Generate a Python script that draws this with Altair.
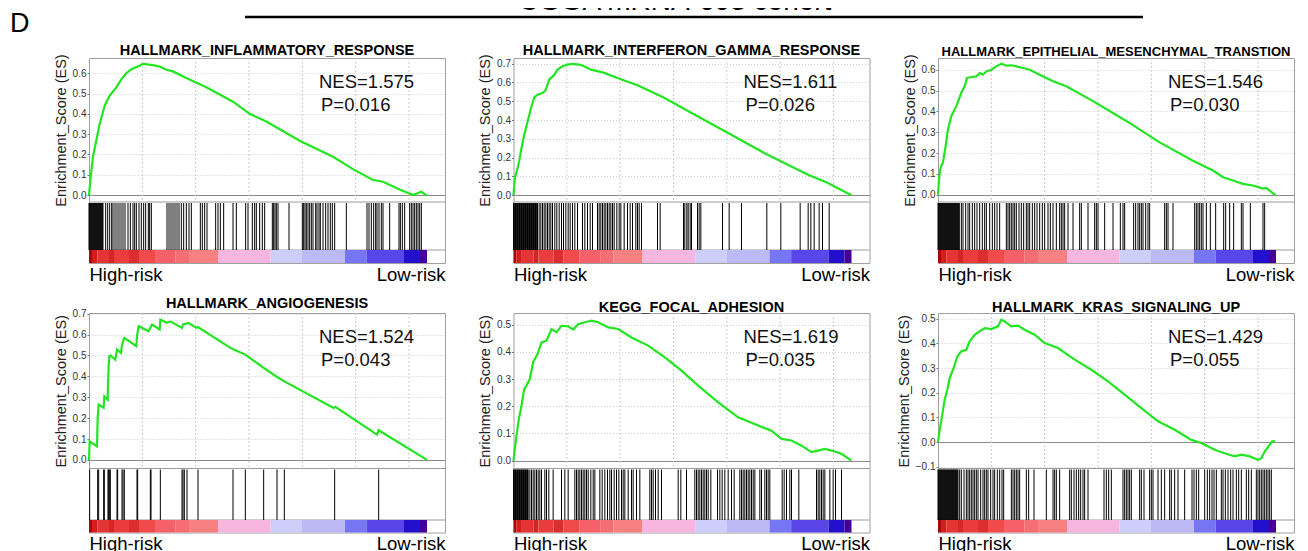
import altair as alt
import pandas as pd

# ---------------- data ----------------
COHORT_TITLE = "CGGA mRNA-693 cohort"
PANEL_LETTER = "D"
LEFT_LABEL = "High-risk"
RIGHT_LABEL = "Low-risk"

TITLES = ["HALLMARK_INFLAMMATORY_RESPONSE", "HALLMARK_INTERFERON_GAMMA_RESPONSE",
          "HALLMARK_EPITHELIAL_MESENCHYMAL_TRANSTION", "HALLMARK_ANGIOGENESIS",
          "KEGG_FOCAL_ADHESION", "HALLMARK_KRAS_SIGNALING_UP"]
NES = ["NES=1.575", "NES=1.611", "NES=1.546", "NES=1.524", "NES=1.619", "NES=1.429"]
PVAL = ["P=0.016", "P=0.026", "P=0.030", "P=0.043", "P=0.035", "P=0.055"]

N_RANKED = 1014          # length of ranked list (position units)
GRID_RANKS = [160, 320, 480, 640, 800, 960]

Y_TICKS_1 = [0.0, 0.1, 0.2, 0.3, 0.4, 0.5, 0.6]
Y_TICKS_2 = [0.0, 0.1, 0.2, 0.3, 0.4, 0.5, 0.6, 0.7]
Y_TICKS_3 = [0.0, 0.1, 0.2, 0.3, 0.4, 0.5, 0.6]
Y_TICKS_4 = [0.0, 0.1, 0.2, 0.3, 0.4, 0.5, 0.6, 0.7]
Y_TICKS_5 = [0.0, 0.1, 0.2, 0.3, 0.4, 0.5]
Y_TICKS_6 = [-0.1, 0.0, 0.1, 0.2, 0.3, 0.4, 0.5]

P1_RANK = [0, 4, 12, 22, 32, 47, 62, 82, 97, 112, 127, 142, 162, 192, 212, 232, 252, 292, 352, 432, 482,
           532, 632, 732, 792, 852, 882, 932, 972, 997, 1014]
P1_ES = [0.0, 0.074, 0.19, 0.27, 0.35, 0.44, 0.49, 0.53, 0.57, 0.60, 0.62, 0.63, 0.646, 0.64, 0.633, 0.617,
         0.609, 0.576, 0.531, 0.46, 0.40, 0.362, 0.268, 0.189, 0.128, 0.074, 0.066, 0.028, 0.0, 0.016, -0.003]

P2_RANK = [0, 4, 10, 17, 24, 32, 42, 52, 62, 72, 87, 97, 107, 122, 132, 147, 162, 177, 197, 212, 232, 252,
           272, 312, 372, 452, 552, 652, 752, 832, 882, 942, 972, 1014]
P2_ES = [0.0, 0.092, 0.128, 0.18, 0.25, 0.32, 0.39, 0.46, 0.52, 0.535, 0.544, 0.56, 0.615, 0.64, 0.668,
         0.686, 0.695, 0.699, 0.695, 0.686, 0.668, 0.66, 0.651, 0.624, 0.585, 0.518, 0.42, 0.323, 0.225,
         0.154, 0.11, 0.066, 0.039, 0.0]

P3_RANK = [0, 3, 7, 15, 23, 30, 40, 55, 70, 80, 87, 100, 115, 125, 135, 145, 160, 175, 190, 205, 220, 235,
           255, 275, 305, 345, 385, 465, 565, 665, 765, 825, 855, 885, 915, 945, 975, 985, 1013]
P3_ES = [0.0, 0.076, 0.124, 0.156, 0.235, 0.314, 0.378, 0.425, 0.489, 0.52, 0.56, 0.565, 0.568, 0.584,
         0.576, 0.592, 0.6, 0.616, 0.629, 0.619, 0.621, 0.616, 0.608, 0.6, 0.576, 0.544, 0.52, 0.449, 0.354,
         0.251, 0.163, 0.116, 0.084, 0.068, 0.052, 0.044, 0.029, 0.032, -0.003]

P4_RANK = [0, 2, 24, 26, 29, 44, 46, 56, 57, 59, 61, 64, 79, 84, 96, 99, 106, 142, 144, 149, 179, 184, 189,
           212, 214, 234, 244, 279, 282, 292, 299, 322, 327, 424, 434, 469, 524, 564, 586, 734, 739, 864,
           869, 1014]
P4_ES = [0.0, 0.089, 0.065, 0.20, 0.265, 0.249, 0.305, 0.289, 0.36, 0.448, 0.496, 0.50, 0.48, 0.528, 0.512,
         0.552, 0.584, 0.544, 0.592, 0.64, 0.616, 0.632, 0.648, 0.624, 0.671, 0.656, 0.663, 0.632, 0.648,
         0.652, 0.655, 0.632, 0.636, 0.536, 0.528, 0.504, 0.44, 0.397, 0.376, 0.249, 0.254, 0.121, 0.142, 0.0]

P5_RANK = [0, 4, 9, 16, 24, 32, 39, 49, 59, 72, 84, 99, 114, 129, 144, 164, 179, 194, 214, 234, 254, 284,
           314, 354, 404, 454, 504, 554, 614, 674, 734, 774, 804, 834, 864, 894, 914, 934, 954, 984, 1014]
P5_ES = [0.0, 0.043, 0.092, 0.153, 0.202, 0.263, 0.276, 0.3, 0.362, 0.392, 0.435, 0.441, 0.484, 0.472,
         0.496, 0.494, 0.482, 0.502, 0.509, 0.515, 0.509, 0.49, 0.484, 0.453, 0.423, 0.38, 0.331, 0.276,
         0.214, 0.159, 0.129, 0.11, 0.08, 0.074, 0.055, 0.031, 0.037, 0.043, 0.037, 0.025, 0.0]

P6_RANK = [0, 5, 12, 20, 28, 35, 45, 58, 70, 85, 95, 110, 125, 140, 160, 180, 190, 200, 220, 240, 260, 290,
           320, 360, 410, 460, 510, 560, 610, 660, 710, 760, 790, 830, 860, 890, 910, 935, 960, 970, 980,
           995, 1002, 1012]
P6_ES = [0.0, 0.05, 0.104, 0.172, 0.212, 0.259, 0.293, 0.347, 0.368, 0.374, 0.408, 0.435, 0.449, 0.462,
         0.458, 0.469, 0.496, 0.489, 0.469, 0.472, 0.455, 0.435, 0.401, 0.381, 0.334, 0.293, 0.246, 0.192,
         0.138, 0.084, 0.05, 0.009, -0.004, -0.031, -0.045, -0.058, -0.051, -0.058, -0.072, -0.065, -0.038,
         -0.011, 0.003, 0.003]

P1_HITS = [0, 2, 4, 6, 8, 10, 12, 14, 16, 18, 20, 22, 24, 26, 28, 30, 32, 34, 36, 38, 40, 42, 50, 56, 62, 68,
           72, 78, 84, 90, 96, 102, 108, 117, 124, 132, 137, 142, 150, 157, 164, 170, 178, 182, 187, 234, 240,
           246, 252, 258, 264, 270, 277, 284, 292, 300, 307, 334, 340, 347, 354, 380, 387, 394, 404, 432, 442,
           470, 477, 490, 497, 502, 512, 520, 527, 550, 554, 558, 562, 567, 600, 640, 644, 648, 652, 657, 662,
           667, 672, 680, 684, 690, 694, 702, 710, 717, 724, 730, 737, 772, 834, 840, 847, 854, 860, 864, 870,
           877, 882, 902, 930, 934, 940, 947, 962, 967, 972, 977, 982, 987, 992, 997]
P2_HITS = [0, 2, 4, 6, 8, 10, 12, 14, 16, 18, 20, 22, 24, 26, 28, 30, 32, 34, 36, 38, 40, 42, 44, 46, 48, 50,
           52, 54, 56, 58, 60, 62, 64, 66, 68, 70, 72, 77, 82, 87, 92, 97, 102, 107, 112, 117, 124, 130, 137,
           144, 150, 157, 164, 170, 177, 184, 192, 207, 214, 222, 230, 237, 252, 257, 262, 267, 272, 277, 282,
           287, 292, 297, 302, 310, 317, 322, 332, 342, 350, 357, 367, 372, 377, 384, 432, 440, 510, 514, 520,
           524, 530, 534, 552, 557, 562, 627, 647, 684, 760, 802, 860, 884, 892, 902, 917, 927, 947]
P3_HITS = [0, 2, 4, 6, 8, 10, 12, 14, 16, 18, 20, 22, 24, 26, 28, 30, 32, 34, 36, 38, 40, 42, 44, 46, 48, 50,
           52, 54, 56, 58, 60, 62, 64, 70, 75, 83, 90, 95, 103, 110, 117, 125, 133, 140, 145, 155, 163, 170,
           177, 185, 205, 210, 215, 220, 225, 230, 235, 243, 250, 257, 265, 270, 275, 283, 290, 297, 305, 313,
           320, 330, 337, 345, 355, 365, 370, 375, 380, 390, 405, 425, 430, 450, 470, 475, 480, 500, 525, 547,
           555, 560, 587, 593, 600, 605, 610, 615, 623, 630, 635, 680, 685, 690, 705, 770, 775, 780, 785, 790,
           795, 805, 817, 833, 857, 863, 875, 887, 910, 915, 937, 975, 980]
P4_HITS = [2, 26, 29, 44, 46, 57, 59, 61, 64, 84, 86, 99, 102, 106, 144, 146, 184, 186, 214, 279, 282, 286,
           294, 327, 432, 469, 524, 564, 586, 737, 869]
P5_HITS = [0, 2, 4, 6, 8, 10, 12, 14, 16, 18, 20, 22, 24, 26, 28, 30, 32, 34, 36, 38, 40, 42, 44, 49, 54, 59,
           64, 69, 74, 79, 84, 94, 99, 106, 119, 144, 154, 164, 184, 189, 194, 199, 204, 209, 214, 219, 224,
           232, 239, 244, 259, 266, 274, 282, 289, 294, 302, 309, 316, 324, 329, 334, 344, 354, 359, 369, 379,
           409, 414, 419, 426, 434, 444, 494, 502, 519, 544, 549, 554, 559, 564, 569, 574, 579, 584, 592, 612,
           619, 626, 634, 644, 654, 662, 679, 684, 689, 694, 699, 704, 709, 714, 719, 724, 739, 744, 754, 759,
           764, 769, 806, 812, 819, 829, 834, 856, 909, 914, 919, 924, 929, 934, 949, 959, 966, 984]
P6_HITS = [0, 2, 4, 6, 8, 10, 12, 14, 16, 18, 20, 22, 24, 26, 28, 30, 32, 34, 36, 38, 40, 42, 44, 46, 48, 50,
           52, 54, 56, 58, 60, 65, 70, 78, 85, 90, 95, 100, 105, 110, 115, 120, 128, 135, 140, 145, 150, 158,
           165, 170, 178, 185, 192, 197, 220, 225, 230, 235, 240, 245, 265, 272, 288, 325, 345, 350, 355, 365,
           395, 400, 408, 415, 422, 428, 435, 440, 450, 498, 505, 512, 520, 555, 560, 565, 570, 575, 580, 605,
           610, 618, 635, 640, 645, 660, 670, 680, 695, 700, 710, 720, 740, 762, 768, 775, 782, 800, 808, 815,
           822, 828, 835, 850, 855, 862, 870, 878, 885, 895, 902, 910, 925, 932, 940, 955, 960, 965, 970, 975,
           980, 985, 990, 995, 1000]

BAR_START = [0, 9, 25, 60, 75, 120, 150, 198, 260, 300, 387, 545, 639, 768, 833, 945, 993]
BAR_END = [9, 25, 60, 75, 120, 150, 198, 260, 300, 387, 545, 639, 768, 833, 945, 993, 1014]
BAR_COLORS = ["#a80808", "#d41e1e", "#e43434", "#d42626", "#ea3c3c", "#dc2e2e", "#f04a4a", "#f66068",
              "#f46e74", "#f88080", "#f6b6e0", "#cecefa", "#bdb9f6", "#7676f4", "#5a46e8", "#2210cc",
              "#46009a"]

# ---------------- layout / style ----------------
X_MAX = 1068
PW = 356
COL_GAP = 68.5
GREEN = "#22e622"
FONT = "Liberation Sans"


def make_panel(i, rank, es, hits, yticks, ydom, H, ES_H, HIT_B, title_size, title_offset):
    xs = alt.Scale(domain=[0, X_MAX], nice=False, zero=False)
    xa = alt.Axis(values=[0, X_MAX],
                  labelExpr=f"datum.value == 0 ? '{LEFT_LABEL}' : '{RIGHT_LABEL}'",
                  labelFlush=True, labelOverlap=False, ticks=False, domain=False, grid=False,
                  labelFontSize=18.5, labelPadding=2, labelColor="#000", title=None)
    ys = alt.Scale(domain=ydom, range=[ES_H, 0], nice=False, zero=False)
    ya = alt.Axis(values=yticks, format=".1f", title="Enrichment_Score (ES)",
                  titleFontSize=14.5, titleFontWeight="normal", titleColor="#222", titlePadding=4,
                  labelFontSize=10, labelColor="#333", labelPadding=1, tickSize=2, tickColor="#777",
                  domain=False, grid=True,
                  gridColor={"condition": {"test": "datum.value === 0", "value": "#8a8a8a"}, "value": "#cfcfcf"},
                  gridDash={"condition": {"test": "datum.value === 0", "value": []}, "value": [1, 2]},
                  gridWidth=1)

    es_df = pd.DataFrame({"rank": rank, "es": es})
    hit_df = pd.DataFrame({"rank": hits})
    bar_df = pd.DataFrame({"start": BAR_START, "end": BAR_END, "col": BAR_COLORS})
    grid_df = pd.DataFrame({"rank": GRID_RANKS})
    one = pd.DataFrame({"k": [0]})

    vgrid = alt.Chart(grid_df).mark_rule(color="#cccccc", strokeDash=[2, 2], strokeWidth=1).encode(
        x=alt.X("rank:Q", scale=xs, axis=xa), y=alt.value(0), y2=alt.value(ES_H))
    sep1 = alt.Chart(one).mark_rule(color="#9a9a9a", strokeWidth=1).encode(y=alt.value(ES_H))
    sep2 = alt.Chart(one).mark_rule(color="#9a9a9a", strokeWidth=1).encode(y=alt.value(HIT_B))
    bar = alt.Chart(bar_df).mark_rect().encode(
        x=alt.X("start:Q", scale=xs, axis=xa), x2="end:Q",
        y=alt.value(HIT_B), y2=alt.value(H), color=alt.Color("col:N", scale=None))
    hit = alt.Chart(hit_df).mark_rule(color="black", strokeWidth=1).encode(
        x=alt.X("rank:Q", scale=xs, axis=xa), y=alt.value(ES_H + 1), y2=alt.value(HIT_B))
    line = alt.Chart(es_df).mark_line(color=GREEN, strokeWidth=2.2).encode(
        x=alt.X("rank:Q", scale=xs, axis=xa), y=alt.Y("es:Q", scale=ys, axis=ya))
    nes_t = alt.Chart(pd.DataFrame({"t": [NES[i]]})).mark_text(
        align="left", baseline="middle", fontSize=18.5, color="#111").encode(
        x=alt.value(230), y=alt.value(24), text="t:N")
    p_t = alt.Chart(pd.DataFrame({"t": [PVAL[i]]})).mark_text(
        align="left", baseline="middle", fontSize=18.5, color="#111").encode(
        x=alt.value(232), y=alt.value(47), text="t:N")

    return alt.layer(vgrid, sep1, sep2, bar, hit, line, nes_t, p_t).properties(
        width=PW, height=H,
        title=alt.TitleParams(TITLES[i], fontSize=title_size, fontWeight="bold", offset=title_offset,
                              anchor="middle", frame="group", color="#000"),
        view=alt.ViewBackground(stroke="#a0a0a0", strokeWidth=1))


R1 = dict(H=205, ES_H=144, HIT_B=192, title_offset=-5)
R2 = dict(H=219.5, ES_H=155.5, HIT_B=207, title_offset=-3)

p1 = make_panel(0, P1_RANK, P1_ES, P1_HITS, Y_TICKS_1, [-0.034, 0.675], title_size=14.5, **R1)
p2 = make_panel(1, P2_RANK, P2_ES, P2_HITS, Y_TICKS_2, [-0.036, 0.73], title_size=14.5, **R1)
p3 = make_panel(2, P3_RANK, P3_ES, P3_HITS, Y_TICKS_3, [-0.035, 0.656], title_size=13, **R1)
p4 = make_panel(3, P4_RANK, P4_ES, P4_HITS, Y_TICKS_4, [-0.041, 0.703], title_size=14.5, **R2)
p5 = make_panel(4, P5_RANK, P5_ES, P5_HITS, Y_TICKS_5, [-0.029, 0.543], title_size=14.5, **R2)
p6 = make_panel(5, P6_RANK, P6_ES, P6_HITS, Y_TICKS_6, [-0.107, 0.523], title_size=14.5, **R2)

# header: panel letter, rule and (cut-off) cohort title
hdr_title = alt.Chart(pd.DataFrame({"t": [COHORT_TITLE]})).mark_text(
    clip=True, fontSize=28, align="center", baseline="alphabetic", color="#000").encode(
    x=alt.value(586), y=alt.value(2), text="t:N")
hdr_line = alt.Chart(pd.DataFrame({"k": [0]})).mark_rule(color="#000", strokeWidth=2.5).encode(
    x=alt.value(156), x2=alt.value(1054), y=alt.value(9))
hdr_letter = alt.Chart(pd.DataFrame({"t": [PANEL_LETTER]})).mark_text(
    fontSize=27, align="left", baseline="top", color="#000").encode(
    x=alt.value(-79), y=alt.value(3), text="t:N")
header = alt.layer(hdr_title, hdr_line, hdr_letter).properties(
    width=3 * PW + 2 * COL_GAP, height=20, view=alt.ViewBackground(stroke=None))

grid = alt.concat(p1, p2, p3, p4, p5, p6, columns=3, bounds="flush", align="each",
                  spacing={"row": 50, "column": COL_GAP})
chart = alt.vconcat(header, grid, spacing=30, bounds="flush").properties(
    padding={"left": 2, "top": 0, "right": 2, "bottom": 2}
).configure(font=FONT, background="white")

chart.save("out.html", embed_options={"renderer": "svg", "actions": False})
